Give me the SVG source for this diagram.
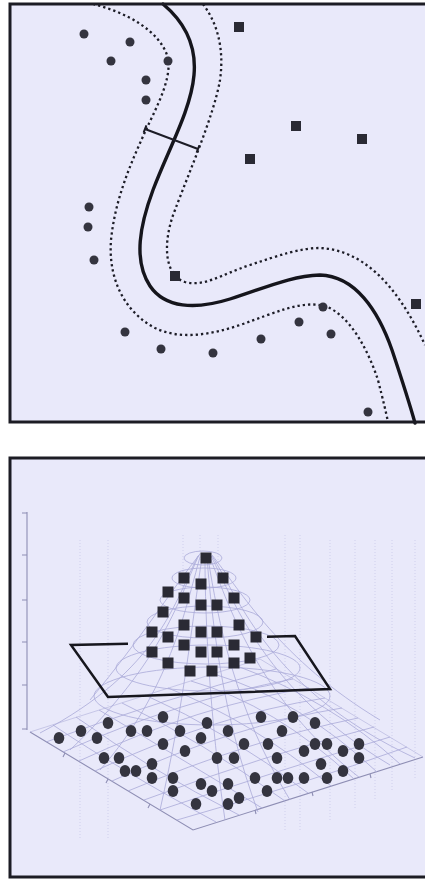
<svg xmlns="http://www.w3.org/2000/svg" width="425" height="879" viewBox="0 0 425 879">
<style>
.bg{fill:#e9e9fa}
.frame{fill:none;stroke:#1c1c24;stroke-width:3}
.pt{fill:#34343f}
.sq{fill:#2a2a34}
.sep{fill:none;stroke:#15151c;stroke-width:3.4;stroke-linecap:round}
.mar{fill:none;stroke:#1c1c26;stroke-width:2.3;stroke-dasharray:2.3 3}
.bar{fill:none;stroke:#1c1c26;stroke-width:2}
.mesh{fill:none;stroke:#aaaad8;stroke-width:0.8}
.grid{fill:none;stroke:#c8c8ea;stroke-width:0.8;stroke-dasharray:1 2}
.axis{fill:none;stroke:#8e8eb4;stroke-width:1.1}
.plane{fill:none;stroke:#17171e;stroke-width:2.5;stroke-linejoin:miter}
</style>
<rect x="0" y="0" width="425" height="879" fill="#ffffff"/>
<g id="panel-top">
  <rect class="bg" x="10" y="4" width="425" height="418"/>
  <path class="mar" d="M93,4 C125,12 160,30 168,58 C172,80 155,110 145,132 C130,165 115,200 111,240 C108,280 125,312 155,328 C180,340 210,335 240,325 C275,313 300,300 325,306 C350,315 368,350 378,380 C383,400 386,412 388,422"/>
  <path class="mar" d="M203,4 C215,20 225,45 220,80 C214,115 190,170 175,210 C163,240 163,275 185,282 C205,287 220,275 250,265 C280,255 300,248 320,248 C360,250 395,280 425,345"/>
  <path class="sep" d="M163,4 C182,20 197,42 194,75 C191,110 168,150 153,190 C140,225 133,260 150,286 C165,308 195,310 230,299 C265,288 290,276 320,275 C355,276 378,310 392,350 C402,380 410,405 415,423"/>
  <g id="margin-bar">
    <path class="bar" d="M145,129 L198,149 M146.4,125.3 L143.6,132.7 M199.4,145.3 L196.6,152.7"/>
  </g>
  <g id="top-circles">
    <circle class="pt" cx="84" cy="34" r="4.5"/>
    <circle class="pt" cx="130" cy="42" r="4.5"/>
    <circle class="pt" cx="111" cy="61" r="4.5"/>
    <circle class="pt" cx="168" cy="61" r="4.5"/>
    <circle class="pt" cx="146" cy="80" r="4.5"/>
    <circle class="pt" cx="146" cy="100" r="4.5"/>
    <circle class="pt" cx="89" cy="207" r="4.5"/>
    <circle class="pt" cx="88" cy="227" r="4.5"/>
    <circle class="pt" cx="94" cy="260" r="4.5"/>
    <circle class="pt" cx="125" cy="332" r="4.5"/>
    <circle class="pt" cx="161" cy="349" r="4.5"/>
    <circle class="pt" cx="213" cy="353" r="4.5"/>
    <circle class="pt" cx="261" cy="339" r="4.5"/>
    <circle class="pt" cx="299" cy="322" r="4.5"/>
    <circle class="pt" cx="323" cy="307" r="4.5"/>
    <circle class="pt" cx="331" cy="334" r="4.5"/>
    <circle class="pt" cx="368" cy="412" r="4.5"/>
  </g>
  <g id="top-squares">
    <rect class="sq" x="234" y="22" width="10" height="10"/>
    <rect class="sq" x="291" y="121" width="10" height="10"/>
    <rect class="sq" x="357" y="134" width="10" height="10"/>
    <rect class="sq" x="245" y="154" width="10" height="10"/>
    <rect class="sq" x="170" y="271" width="10" height="10"/>
    <rect class="sq" x="411" y="299" width="10" height="10"/>
  </g>
  <rect class="frame" x="10" y="4" width="430" height="418"/>
</g>
<g id="panel-bottom">
  <rect class="bg" x="10" y="458" width="425" height="419"/>
  <g id="background-grid">
    <path class="grid" d="M80,540 V840 M108,540 V840 M183,535 V600 M200,535 V560 M218,535 V560 M285,535 V830 M300,535 V830 M330,540 V820 M355,540 V810 M375,540 V800 M392,540 V790 M415,540 V780"/>
  </g>
  <g id="axes">
    <path class="axis" d="M27,512 V730 M22,513 H27 M22,555 H27 M22,600 H27 M22,642 H27 M22,685 H27 M22,729 H27"/>
    <path class="axis" d="M30,732 L193,830 L423,757"/>
    <path class="axis" d="M65,753 l-2,4 M108,779 l-2,4 M150,804 l-2,4 M255,810 l1,4 M312,792 l1,4 M370,774 l1,4"/>
  </g>
  <g id="mesh">
    <path class="mesh" d="M30,732 L260,659 L423,757" opacity="0.7"/>
    <path class="mesh" d="M46,742 Q160,700 276,669 M63,752 Q180,700 293,679 M79,761 Q200,705 309,688 M95,771 Q215,715 325,698 M112,781 Q235,725 342,708 M128,791 Q250,740 358,718 M144,800 Q265,755 374,727 M160,810 Q280,770 390,737 M177,820 Q300,785 407,747"/>
    <path class="mesh" d="M53,725 Q120,770 216,822 M76,717 Q150,770 239,815 M99,710 Q175,755 262,808 M122,703 Q200,740 285,801 M145,695 Q225,730 308,793 M168,688 Q250,720 331,786 M191,681 Q275,705 354,779 M214,674 Q300,700 377,772 M237,666 Q330,700 400,764"/>
    <ellipse class="mesh" cx="203" cy="558" rx="19" ry="7"/>
    <ellipse class="mesh" cx="204" cy="578" rx="32" ry="10"/>
    <ellipse class="mesh" cx="205" cy="600" rx="45" ry="13"/>
    <ellipse class="mesh" cx="205" cy="622" rx="58" ry="16"/>
    <ellipse class="mesh" cx="206" cy="645" rx="73" ry="19"/>
    <ellipse class="mesh" cx="208" cy="668" rx="92" ry="23"/>
    <ellipse class="mesh" cx="212" cy="696" rx="118" ry="29"/>
    <path class="mesh" d="M198,556 C175,600 160,670 40,733 M200,557 C185,610 170,690 100,770 M202,558 C192,620 185,700 160,810 M205,558 C205,620 210,720 225,820 M208,558 C218,620 235,710 290,800 M210,557 C230,610 260,700 360,778 M212,556 C240,600 270,690 415,758 M212,555 C240,590 280,660 380,720 M200,554 C175,585 140,640 90,700 M199,555 C180,595 165,660 70,750 M207,558 C212,620 222,715 258,812 M211,556 C236,605 265,690 390,765"/>
  </g>
  <g id="plane">
    <path class="plane" d="M128,643.8 L71,645 L108,697 L330,689 L295,636 L267,636.8"/>
  </g>
  <g id="bottom-squares">
    <rect class="sq" x="200.5" y="552.5" width="11" height="11"/>
    <rect class="sq" x="178.5" y="572.5" width="11" height="11"/>
    <rect class="sq" x="217.5" y="572.5" width="11" height="11"/>
    <rect class="sq" x="195.5" y="578.5" width="11" height="11"/>
    <rect class="sq" x="162.5" y="586.5" width="11" height="11"/>
    <rect class="sq" x="178.5" y="592.5" width="11" height="11"/>
    <rect class="sq" x="195.5" y="599.5" width="11" height="11"/>
    <rect class="sq" x="211.5" y="599.5" width="11" height="11"/>
    <rect class="sq" x="228.5" y="592.5" width="11" height="11"/>
    <rect class="sq" x="157.5" y="606.5" width="11" height="11"/>
    <rect class="sq" x="178.5" y="619.5" width="11" height="11"/>
    <rect class="sq" x="233.5" y="619.5" width="11" height="11"/>
    <rect class="sq" x="146.5" y="626.5" width="11" height="11"/>
    <rect class="sq" x="162.5" y="631.5" width="11" height="11"/>
    <rect class="sq" x="195.5" y="626.5" width="11" height="11"/>
    <rect class="sq" x="211.5" y="626.5" width="11" height="11"/>
    <rect class="sq" x="250.5" y="631.5" width="11" height="11"/>
    <rect class="sq" x="178.5" y="639.5" width="11" height="11"/>
    <rect class="sq" x="228.5" y="639.5" width="11" height="11"/>
    <rect class="sq" x="146.5" y="646.5" width="11" height="11"/>
    <rect class="sq" x="195.5" y="646.5" width="11" height="11"/>
    <rect class="sq" x="211.5" y="646.5" width="11" height="11"/>
    <rect class="sq" x="244.5" y="652.5" width="11" height="11"/>
    <rect class="sq" x="162.5" y="657.5" width="11" height="11"/>
    <rect class="sq" x="228.5" y="657.5" width="11" height="11"/>
    <rect class="sq" x="184.5" y="665.5" width="11" height="11"/>
    <rect class="sq" x="206.5" y="665.5" width="11" height="11"/>
  </g>
  <g id="bottom-circles">
    <ellipse class="pt" cx="59" cy="738" rx="5.3" ry="6"/>
    <ellipse class="pt" cx="81" cy="731" rx="5.3" ry="6"/>
    <ellipse class="pt" cx="97" cy="738" rx="5.3" ry="6"/>
    <ellipse class="pt" cx="108" cy="723" rx="5.3" ry="6"/>
    <ellipse class="pt" cx="131" cy="731" rx="5.3" ry="6"/>
    <ellipse class="pt" cx="147" cy="731" rx="5.3" ry="6"/>
    <ellipse class="pt" cx="163" cy="717" rx="5.3" ry="6"/>
    <ellipse class="pt" cx="180" cy="731" rx="5.3" ry="6"/>
    <ellipse class="pt" cx="207" cy="723" rx="5.3" ry="6"/>
    <ellipse class="pt" cx="228" cy="731" rx="5.3" ry="6"/>
    <ellipse class="pt" cx="261" cy="717" rx="5.3" ry="6"/>
    <ellipse class="pt" cx="293" cy="717" rx="5.3" ry="6"/>
    <ellipse class="pt" cx="315" cy="723" rx="5.3" ry="6"/>
    <ellipse class="pt" cx="282" cy="731" rx="5.3" ry="6"/>
    <ellipse class="pt" cx="201" cy="738" rx="5.3" ry="6"/>
    <ellipse class="pt" cx="163" cy="744" rx="5.3" ry="6"/>
    <ellipse class="pt" cx="185" cy="751" rx="5.3" ry="6"/>
    <ellipse class="pt" cx="244" cy="744" rx="5.3" ry="6"/>
    <ellipse class="pt" cx="268" cy="744" rx="5.3" ry="6"/>
    <ellipse class="pt" cx="304" cy="751" rx="5.3" ry="6"/>
    <ellipse class="pt" cx="315" cy="744" rx="5.3" ry="6"/>
    <ellipse class="pt" cx="327" cy="744" rx="5.3" ry="6"/>
    <ellipse class="pt" cx="343" cy="751" rx="5.3" ry="6"/>
    <ellipse class="pt" cx="359" cy="744" rx="5.3" ry="6"/>
    <ellipse class="pt" cx="359" cy="758" rx="5.3" ry="6"/>
    <ellipse class="pt" cx="104" cy="758" rx="5.3" ry="6"/>
    <ellipse class="pt" cx="119" cy="758" rx="5.3" ry="6"/>
    <ellipse class="pt" cx="125" cy="771" rx="5.3" ry="6"/>
    <ellipse class="pt" cx="136" cy="771" rx="5.3" ry="6"/>
    <ellipse class="pt" cx="152" cy="764" rx="5.3" ry="6"/>
    <ellipse class="pt" cx="152" cy="778" rx="5.3" ry="6"/>
    <ellipse class="pt" cx="173" cy="778" rx="5.3" ry="6"/>
    <ellipse class="pt" cx="173" cy="791" rx="5.3" ry="6"/>
    <ellipse class="pt" cx="217" cy="758" rx="5.3" ry="6"/>
    <ellipse class="pt" cx="234" cy="758" rx="5.3" ry="6"/>
    <ellipse class="pt" cx="277" cy="758" rx="5.3" ry="6"/>
    <ellipse class="pt" cx="321" cy="764" rx="5.3" ry="6"/>
    <ellipse class="pt" cx="343" cy="771" rx="5.3" ry="6"/>
    <ellipse class="pt" cx="327" cy="778" rx="5.3" ry="6"/>
    <ellipse class="pt" cx="201" cy="784" rx="5.3" ry="6"/>
    <ellipse class="pt" cx="212" cy="791" rx="5.3" ry="6"/>
    <ellipse class="pt" cx="228" cy="784" rx="5.3" ry="6"/>
    <ellipse class="pt" cx="239" cy="798" rx="5.3" ry="6"/>
    <ellipse class="pt" cx="228" cy="804" rx="5.3" ry="6"/>
    <ellipse class="pt" cx="196" cy="804" rx="5.3" ry="6"/>
    <ellipse class="pt" cx="255" cy="778" rx="5.3" ry="6"/>
    <ellipse class="pt" cx="277" cy="778" rx="5.3" ry="6"/>
    <ellipse class="pt" cx="288" cy="778" rx="5.3" ry="6"/>
    <ellipse class="pt" cx="304" cy="778" rx="5.3" ry="6"/>
    <ellipse class="pt" cx="267" cy="791" rx="5.3" ry="6"/>
  </g>
  <rect class="frame" x="10" y="458" width="430" height="419"/>
</g>
</svg>
